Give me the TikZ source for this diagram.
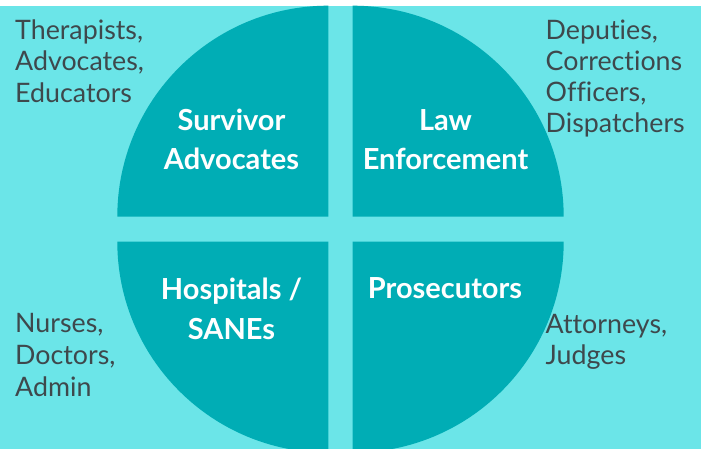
\documentclass[tikz,border=0pt]{standalone}
\usepackage{fontspec}
\setmainfont{Lato}[Ligatures={NoCommon,NoRequired,NoContextual}]
\definecolor{bgcyan}{HTML}{6BE5E8}
\definecolor{teal}{HTML}{00ADB5}
\definecolor{sidegray}{HTML}{3E484C}
\tikzset{
  quarter/.style={fill=teal, draw=none},
  sidetext/.style={anchor=base west, inner sep=0pt, text=sidegray, font=\fontsize{26.8}{31}\selectfont},
  label/.style={anchor=base, inner sep=0pt, text=white, font=\bfseries\fontsize{29}{39}\selectfont},
}
\begin{document}
\begin{tikzpicture}[x=1pt,y=1pt]
\useasboundingbox (0,0) rectangle (701,449);
\clip (0,0) rectangle (701,449);
\fill[white] (0,0) rectangle (701,449);
\fill[bgcyan] (0,0) rectangle (701,443);
% quarters
\coordinate (ctl) at (328.3,232.3);
\coordinate (ctr) at (352.7,232.3);
\coordinate (cbl) at (328.3,207.3);
\coordinate (cbr) at (352.7,207.3);
\fill[quarter] (ctl) -- ++(-211,0) arc[start angle=180, end angle=90, radius=211] -- cycle;
\fill[quarter] (ctr) -- ++(0,211) arc[start angle=90, end angle=0, radius=211] -- cycle;
\fill[quarter] (cbl) -- ++(-211,0) arc[start angle=180, end angle=270, radius=211] -- cycle;
\fill[quarter] (cbr) -- ++(0,-211) arc[start angle=270, end angle=360, radius=211] -- cycle;
% labels
\node[label] (sa1) at (231.5,318) {Survivor};
\node[label] (sa2) at (231.5,279) {Advocates};
\node[label] (le1) at (445.5,318) {Law};
\node[label] (le2) at (445.5,279) {Enforcement};
\node[label] (hs1) at (231.5,149) {Hospitals /};
\node[label] (hs2) at (231.5,109) {SANEs};
\node[label] (pr1) at (445,150) {Prosecutors};
% side text
\node[sidetext] (t1) at (15,409.7) {Therapists,};
\node[sidetext] (t2) at (15,378) {Advocates,};
\node[sidetext] (t3) at (15,346) {Educators};
\node[sidetext] (d1) at (545.5,409) {Deputies,};
\node[sidetext] (d2) at (545.5,378) {Corrections};
\node[sidetext] (d3) at (545.5,347) {Officers,};
\node[sidetext] (d4) at (545.5,316) {Dispatchers};
\node[sidetext] (n1) at (15,116) {Nurses,};
\node[sidetext] (n2) at (15,84) {Doctors,};
\node[sidetext] (n3) at (15,52) {Admin};
\node[sidetext] (a1) at (545.5,115) {Attorneys,};
\node[sidetext] (a2) at (545.5,84) {Judges};
\end{tikzpicture}
\end{document}
